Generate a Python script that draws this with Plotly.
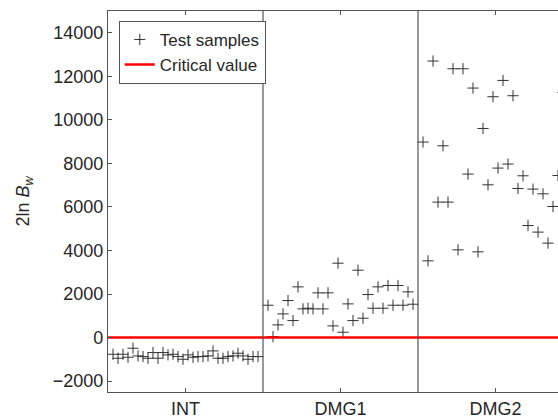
import plotly.graph_objects as go

# ---- data ----
int_vals = [-766, -950, -766, -904, -490, -843, -873, -950, -689, -950,
            -689, -797, -766, -873, -996, -797, -904, -873, -873, -843,
            -613, -950, -950, -873, -843, -720, -843, -996, -873, -873]
dmg1_vals = [1486, 46, 582, 1088, 1700, 781, 2329, 1318, 1348, 1318,
             2053, 1318, 2053, 536, 3416, 245, 1547, 781, 3095, 889,
             1976, 1348, 2329, 1348, 2390, 1486, 2390, 1486, 2099, 1532]
dmg2_vals = [8980, 3525, 12702, 6222, 8810, 6222, 12348, 4030, 12348, 7509,
             11461, 3938, 9605, 7017, 11062, 7785, 11811, 7969, 11108, 6848,
             7431, 5147, 6820, 4844, 6604, 4338, 6020, 7445, 11259]
group_labels = ["INT", "DMG1", "DMG2"]
critical_value = 0

# sample index positions: each group of 30 samples, separated by one gap slot
groups = [int_vals, dmg1_vals, dmg2_vals]
xs, ys = [], []
for g, vals in enumerate(groups):
    for k, v in enumerate(vals):
        xs.append(g * 31 + k + 1)
        ys.append(v)
dividers = [31, 62]
tick_pos = [15.5, 46.5, 77.5]
x_range = [0, 90]
y_range = [-2500, 15000]

fig = go.Figure()
fig.add_trace(go.Scatter(
    x=xs, y=ys, mode="markers", name="Test samples",
    marker=dict(symbol="cross-thin-open", size=8, color="#333333",
                line=dict(width=1, color="#333333")),
))
fig.add_trace(go.Scatter(
    x=x_range, y=[critical_value, critical_value], mode="lines",
    name="Critical value", line=dict(color="#ff0000", width=2.5),
))
for d in dividers:
    fig.add_shape(type="line", xref="x", yref="paper", x0=d, x1=d, y0=0, y1=1,
                  line=dict(color="#555555", width=1.2))

font = "Liberation Sans, Arial, sans-serif"
fig.update_layout(
    width=558, height=418,
    margin=dict(l=108, r=0, t=11, b=26),
    paper_bgcolor="white", plot_bgcolor="white",
    font=dict(family=font, size=17, color="#262626"),
    showlegend=True,
    legend=dict(x=0.024, y=0.974, xanchor="left", yanchor="top",
                bgcolor="white", bordercolor="#555555", borderwidth=1,
                font=dict(size=17), tracegroupgap=0, itemwidth=30),
    xaxis=dict(range=x_range, showgrid=False, zeroline=False,
               showline=True, linecolor="#555555", linewidth=1.2,
               mirror="ticks", ticks="inside", ticklen=4, tickcolor="#555555",
               tickvals=tick_pos, ticktext=group_labels,
               tickfont=dict(size=18)),
    yaxis=dict(range=y_range, showgrid=False, zeroline=False,
               showline=True, linecolor="#555555", linewidth=1.2,
               ticks="inside", ticklen=4, tickcolor="#555555",
               tickvals=[-2000, 0, 2000, 4000, 6000, 8000, 10000, 12000, 14000],
               ticktext=["\u22122000", "0", "2000", "4000", "6000", "8000",
                         "10000", "12000", "14000"],
               tickfont=dict(size=18),
               title=dict(text="2ln <i>B</i><sub><i>w</i></sub>", standoff=18,
                          font=dict(size=18))),
)
fig.write_html("out.html", config={"displayModeBar": False},
               post_script="document.body.style.margin='0';document.body.style.padding='0';")
